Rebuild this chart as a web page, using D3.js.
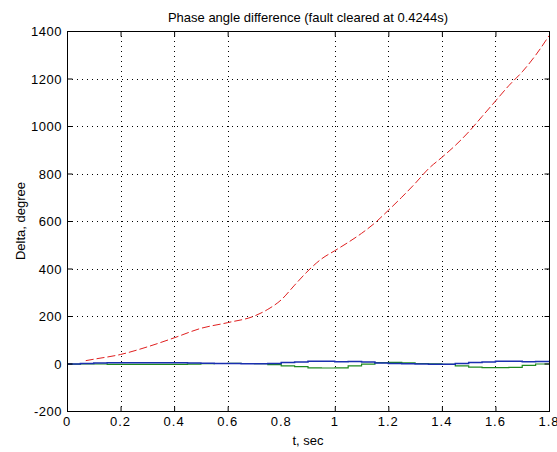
<!DOCTYPE html>
<html>
<head>
<meta charset="utf-8">
<script src="https://cdn.jsdelivr.net/npm/d3@7"></script>
<style>
  body { margin: 0; background: #fff; }
  text { font-family: "Liberation Sans", Arial, sans-serif; fill: #000; }
</style>
</head>
<body>
<div class="item"></div>
<script>
// chart data
var xTicks = [0, 0.2, 0.4, 0.6, 0.8, 1, 1.2, 1.4, 1.6, 1.8];
var yTicks = [-200, 0, 200, 400, 600, 800, 1000, 1200, 1400];
var gridX = [0.2, 0.4, 0.6, 1, 1.2, 1.4, 1.6];   // 0.8 line is missing in the picture
var gridY = [200, 400, 600, 800, 1000, 1200];

var redT = [0.07, 0.1, 0.2, 0.3, 0.4, 0.5, 0.6, 0.7, 0.75, 0.8, 0.85, 0.9, 0.95, 1.0, 1.05, 1.1, 1.15, 1.2, 1.25, 1.3, 1.35, 1.4, 1.45, 1.5, 1.55, 1.6, 1.65, 1.7, 1.75, 1.8];
var redV = [12, 18, 38, 70, 108, 148, 172, 200, 228, 268, 330, 390, 440, 475, 510, 548, 592, 645, 700, 758, 820, 868, 918, 975, 1040, 1105, 1170, 1228, 1298, 1380];

var lowT = [0, 0.05, 0.1, 0.15, 0.2, 0.25, 0.3, 0.35, 0.4, 0.45, 0.5, 0.55, 0.6, 0.65, 0.7, 0.75, 0.8, 0.85, 0.9, 0.95, 1.0, 1.05, 1.1, 1.15, 1.2, 1.25, 1.3, 1.35, 1.4, 1.45, 1.5, 1.55, 1.6, 1.65, 1.7, 1.75, 1.8];
var blueV = [-2, 0, 2, 3, 3, 3, 3, 3, 3, 2, 1, 0, 0, -1, -1, 0, 4, 6, 9, 9, 7, 8, 6, 2, 0, -1, -2, -3, -3, 0, 4, 6, 9, 9, 7, 8, 8];
var greenV = [-3, -2, -2, -4, -4, -4, -4, -4, -4, -3, -1, 0, 1, 0, -1, -5, -10, -13, -18, -19, -18, -10, -3, 4, 5, 3, 0, -1, -4, -10, -15, -17, -17, -16, -8, -2, 0];

var width = 557, height = 452;
var pLeft = 67, pRight = 549, pTop = 31, pBottom = 411;

var svg = d3.select(".item").append("svg")
    .attr("width", width)
    .attr("height", height);

var x = d3.scaleLinear().domain([0, 1.8]).range([pLeft, pRight]);
var y = d3.scaleLinear().domain([-200, 1400]).range([pBottom, pTop]);

// dotted grid
svg.selectAll(".gx").data(gridX).enter().append("line")
    .attr("x1", function(d){ return Math.round(x(d)) + 0.5; })
    .attr("x2", function(d){ return Math.round(x(d)) + 0.5; })
    .attr("y1", pTop).attr("y2", pBottom)
    .attr("stroke", "#000").attr("stroke-width", 1)
    .attr("stroke-dasharray", "1,4");
svg.selectAll(".gy").data(gridY).enter().append("line")
    .attr("y1", function(d){ return Math.round(y(d)) + 0.5; })
    .attr("y2", function(d){ return Math.round(y(d)) + 0.5; })
    .attr("x1", pLeft).attr("x2", pRight)
    .attr("stroke", "#000").attr("stroke-width", 1)
    .attr("stroke-dasharray", "1,4");

// lines
var line = d3.line()
    .x(function(d){ return x(d[0]); })
    .y(function(d){ return y(d[1]); });

svg.append("path")
    .datum(d3.zip(lowT, greenV))
    .attr("d", line.curve(d3.curveStepAfter))
    .attr("fill", "none").attr("stroke", "#1f8a1f").attr("stroke-width", 1.2);
svg.append("path")
    .datum(d3.zip(lowT, blueV))
    .attr("d", line.curve(d3.curveStepAfter))
    .attr("fill", "none").attr("stroke", "#1a2fb0").attr("stroke-width", 1.5);
svg.append("path")
    .datum(d3.zip(redT, redV))
    .attr("d", line.curve(d3.curveMonotoneX))
    .attr("fill", "none").attr("stroke", "#e02020").attr("stroke-width", 1)
    .attr("stroke-dasharray", "8,3");

// box
svg.append("rect")
    .attr("x", pLeft + 0.5).attr("y", pTop + 0.5)
    .attr("width", pRight - pLeft).attr("height", pBottom - pTop)
    .attr("fill", "none").attr("stroke", "#000").attr("stroke-width", 1);

// ticks inside the box (0.8 tick missing in the picture)
var tickLen = 5;
var xTickMarks = xTicks.filter(function(d){ return d !== 0.8; });
svg.append("g").attr("transform", "translate(0," + (pBottom + 0.5) + ")")
    .call(d3.axisBottom(x).tickValues(xTickMarks).tickSize(-tickLen).tickFormat(""))
    .call(function(g){ g.select(".domain").remove(); });
svg.append("g").attr("transform", "translate(0," + (pTop + 0.5) + ")")
    .call(d3.axisTop(x).tickValues(xTickMarks).tickSize(-tickLen).tickFormat(""))
    .call(function(g){ g.select(".domain").remove(); });
svg.append("g").attr("transform", "translate(" + (pLeft + 0.5) + ",0)")
    .call(d3.axisLeft(y).tickValues(yTicks).tickSize(-tickLen).tickFormat(""))
    .call(function(g){ g.select(".domain").remove(); });
svg.append("g").attr("transform", "translate(" + (pRight + 0.5) + ",0)")
    .call(d3.axisRight(y).tickValues(yTicks).tickSize(-tickLen).tickFormat(""))
    .call(function(g){ g.select(".domain").remove(); });
svg.selectAll(".tick line").attr("stroke", "#000");

// tick labels
svg.selectAll(".xl").data(xTicks).enter().append("text")
    .attr("x", function(d){ return x(d); })
    .attr("y", pBottom + 15)
    .attr("text-anchor", "middle")
    .style("font-size", "13px")
    .style("letter-spacing", "1px")
    .text(function(d){ return d; });
svg.selectAll(".yl").data(yTicks).enter().append("text")
    .attr("x", pLeft - 5)
    .attr("y", function(d){ return y(d) + 5; })
    .attr("text-anchor", "end")
    .style("font-size", "13px")
    .style("letter-spacing", "0.5px")
    .text(function(d){ return d; });

// titles
svg.append("text")
    .attr("x", (pLeft + pRight) / 2).attr("y", 22)
    .attr("text-anchor", "middle")
    .style("font-size", "13px")
    .text("Phase angle difference (fault cleared at 0.4244s)");
svg.append("text")
    .attr("x", (pLeft + pRight) / 2).attr("y", 445)
    .attr("text-anchor", "middle")
    .style("font-size", "13px")
    .text("t, sec");
svg.append("text")
    .attr("transform", "translate(25," + ((pTop + pBottom) / 2) + ") rotate(-90)")
    .attr("text-anchor", "middle")
    .style("font-size", "13px")
    .text("Delta, degree");
</script>
</body>
</html>
